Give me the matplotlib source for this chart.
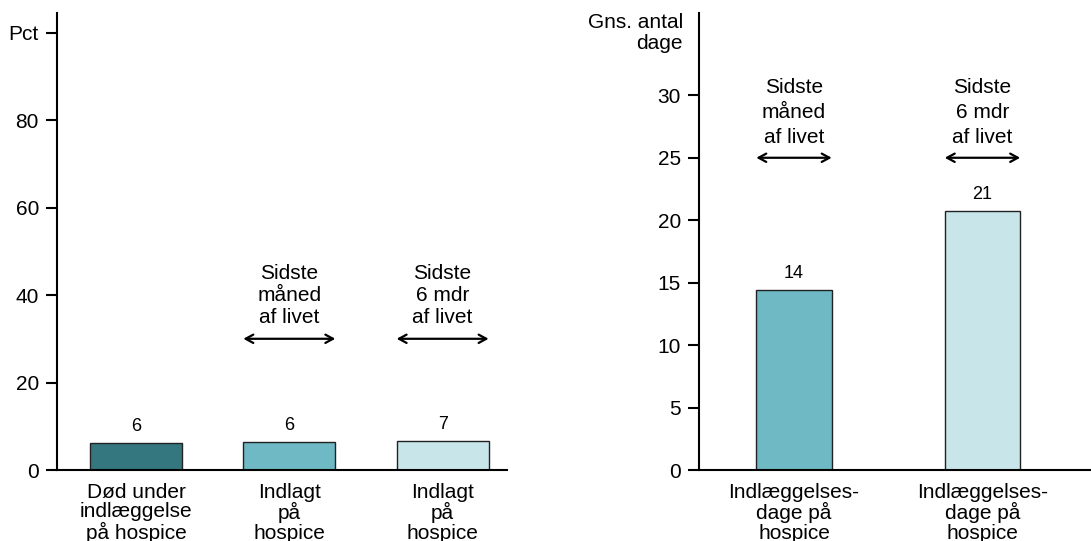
import matplotlib.pyplot as plt
import numpy as np

plt.rcParams['font.family'] = ['Liberation Sans', 'DejaVu Sans']

# venstre panel: andel (pct)
pct_labels = ["Død under\nindlæggelse\npå hospice", "Indlagt\npå\nhospice", "Indlagt\npå\nhospice"]
pct_values = [6.1, 6.3, 6.6]
pct_colors = ["#35777F", "#6EB9C4", "#C8E6E9"]
pct_ticks = [0, 20, 40, 60, 80, 100]
pct_ticklabels = ["0", "20", "40", "60", "80", "Pct"]

# højre panel: gns. antal dage
day_labels = ["Indlæggelses-\ndage på\nhospice", "Indlæggelses-\ndage på\nhospice"]
day_values = [14.4, 20.7]
day_colors = ["#6EB9C4", "#C8E6E9"]
day_ticks = [0, 5, 10, 15, 20, 25, 30]

periods = ["Sidste\nmåned\naf livet", "Sidste\n6 mdr\naf livet"]

fig = plt.figure(figsize=(10.91, 5.41), dpi=100)
ax1 = fig.add_axes([0.0522, 0.1312, 0.4125, 0.845])
ax2 = fig.add_axes([0.6407, 0.1312, 0.3593, 0.845])

arrow = dict(arrowstyle="<->,head_length=0.55,head_width=0.3", lw=1.6,
             color="black", shrinkA=0, shrinkB=0)


def style(ax):
    for s in ["top", "right"]:
        ax.spines[s].set_visible(False)
    ax.spines["left"].set_linewidth(1.5)
    ax.spines["bottom"].set_linewidth(1.5)
    ax.tick_params(axis="y", length=8, width=1.5, pad=5, labelsize=15)
    ax.tick_params(axis="x", length=0, pad=9, labelsize=15)


# venstre
x1 = np.arange(len(pct_values))
w1 = 0.6
ax1.bar(x1, pct_values, width=w1, color=pct_colors, edgecolor="#222222", linewidth=1)
for xi, v in zip(x1, pct_values):
    ax1.annotate(f"{v:.0f}", (xi, v), xytext=(0, 6), textcoords="offset points",
                 ha="center", va="bottom", fontsize=13)
for xi, txt in zip(x1[1:], periods):
    ax1.annotate("", xy=(xi - w1 / 2, 30), xytext=(xi + w1 / 2, 30), arrowprops=arrow)
    ax1.text(xi, 32.6, txt, ha="center", va="bottom", fontsize=15, linespacing=1.2)
ax1.set_xlim(-0.516, 2.42)
ax1.set_ylim(0, 104.5)
ax1.set_yticks(pct_ticks)
ax1.set_yticklabels(pct_ticklabels)
ax1.set_xticks(x1)
ax1.set_xticklabels(pct_labels, linespacing=1.05)
style(ax1)

# højre
x2 = np.arange(len(day_values))
w2 = 0.4
ax2.bar(x2, day_values, width=w2, color=day_colors, edgecolor="#222222", linewidth=1)
for xi, v in zip(x2, day_values):
    ax2.annotate(f"{v:.0f}", (xi, v), xytext=(0, 6), textcoords="offset points",
                 ha="center", va="bottom", fontsize=13)
for xi, txt in zip(x2, periods):
    ax2.annotate("", xy=(xi - w2 / 2, 25), xytext=(xi + w2 / 2, 25), arrowprops=arrow)
    ax2.text(xi, 25.9, txt, ha="center", va="bottom", fontsize=15, linespacing=1.4)
ax2.set_xlim(-0.504, 1.576)
ax2.set_ylim(0, 36.6)
ax2.set_yticks(day_ticks)
ax2.set_xticks(x2)
ax2.set_xticklabels(day_labels, linespacing=1.05)
ax2.annotate("Gns. antal\ndage", xy=(0, 35.0), xycoords=("axes fraction", "data"),
             xytext=(-11.5, 0), textcoords="offset points", ha="right", va="center",
             fontsize=15, linespacing=1.1)
style(ax2)

fig.savefig("out.png", dpi=100)
